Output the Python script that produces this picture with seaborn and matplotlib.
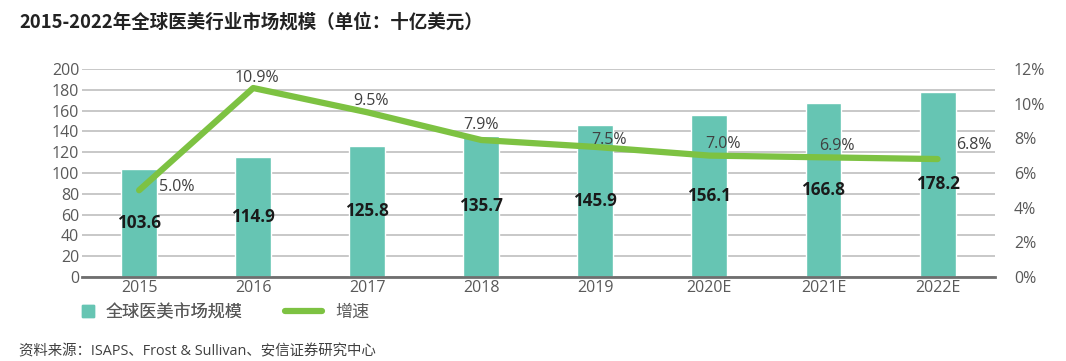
import numpy as np
import matplotlib
matplotlib.use('Agg')
import matplotlib.pyplot as plt
import seaborn as sns
from matplotlib.lines import Line2D

# data
years = ['2015', '2016', '2017', '2018', '2019', '2020E', '2021E', '2022E']
market = [103.6, 114.9, 125.8, 135.7, 145.9, 156.1, 166.8, 178.2]
growth = [5.0, 10.9, 9.5, 7.9, 7.5, 7.0, 6.9, 6.8]

title = '2015-2022年全球医美行业市场规模（单位：十亿美元）'
source = '资料来源：ISAPS、Frost & Sullivan、安信证券研究中心'

sns.set_theme(style='white')
plt.rcParams['font.family'] = ['Open Sans', 'Noto Sans CJK SC', 'DejaVu Sans']

teal = '#66c5b3'
green = '#7dc242'
gray = '#595959'

fig = plt.figure(figsize=(10.66, 3.61), dpi=100)
ax = fig.add_axes([0.077, 0.233, 0.856, 0.576])

sns.barplot(x=years, y=market, color=teal, width=0.315, saturation=1, ax=ax)
ax.set_ylim(0, 200)
ax.set_xlim(-0.5, len(years) - 0.5)
ax.set_yticks(range(0, 201, 20))
ax.yaxis.grid(True, color='#bfbfbf', linewidth=1.2)
ax.set_axisbelow(True)
for s in ['top', 'right', 'left']:
    ax.spines[s].set_visible(False)
ax.spines['bottom'].set_color('#6f6f6f')
ax.spines['bottom'].set_linewidth(2)
ax.tick_params(length=0, labelsize=11.5, colors=gray, pad=2)

# bar value labels at half height
for i, v in enumerate(market):
    ax.text(i, v / 2, f'{v:.1f}', ha='center', va='center',
            fontsize=12.3, fontweight='bold', color='#1a1a1a')

ax2 = ax.twinx()
x = np.arange(len(years))
sns.lineplot(x=x, y=growth, color=green, linewidth=4.5, ax=ax2,
             solid_capstyle='round')
ax2.set_ylim(0, 12)
ax2.set_yticks(range(0, 13, 2))
ax2.set_yticklabels([f'{t}%' for t in range(0, 13, 2)])
for s in ['top', 'right', 'left', 'bottom']:
    ax2.spines[s].set_visible(False)
ax2.tick_params(length=0, labelsize=11.5, colors=gray, pad=14)
ax2.set_xlim(-0.5, len(years) - 0.5)

offsets = [(27, 2), (3, 7), (3, 8), (0, 11), (10, 5), (10, 8), (10, 8), (26, 10)]
for i, (g, off) in enumerate(zip(growth, offsets)):
    ax2.annotate(f'{g:.1f}%', (i, g), xytext=off, textcoords='offset points',
                 ha='center', va='center', fontsize=11.5, color='#404040')

h_bar = Line2D([], [], marker='s', markersize=9, linestyle='none', color=teal,
               label='全球医美市场规模')
h_line = Line2D([0], [0], color=green, linewidth=4.5, solid_capstyle='round', label='增速')
leg1 = fig.legend(handles=[h_bar], loc='center left', bbox_to_anchor=(0.075, 0.133),
                  frameon=False, fontsize=12.3, handlelength=1.0, handletextpad=0.5,
                  borderpad=0, borderaxespad=0, labelcolor=gray)
fig.legend(handles=[h_line], loc='center left', bbox_to_anchor=(0.267, 0.133),
           frameon=False, fontsize=12.3, handlelength=2.2, handletextpad=0.75,
           borderpad=0, borderaxespad=0, labelcolor=gray)
fig.add_artist(leg1)

fig.text(0.018, 0.94, title, fontsize=13.3, fontweight='bold', color='#222222',
         family=['Noto Sans CJK SC'], va='center')
fig.text(0.018, 0.025, source, fontsize=10.4, color='#404040', va='center')

fig.savefig('out.png', dpi=100)
